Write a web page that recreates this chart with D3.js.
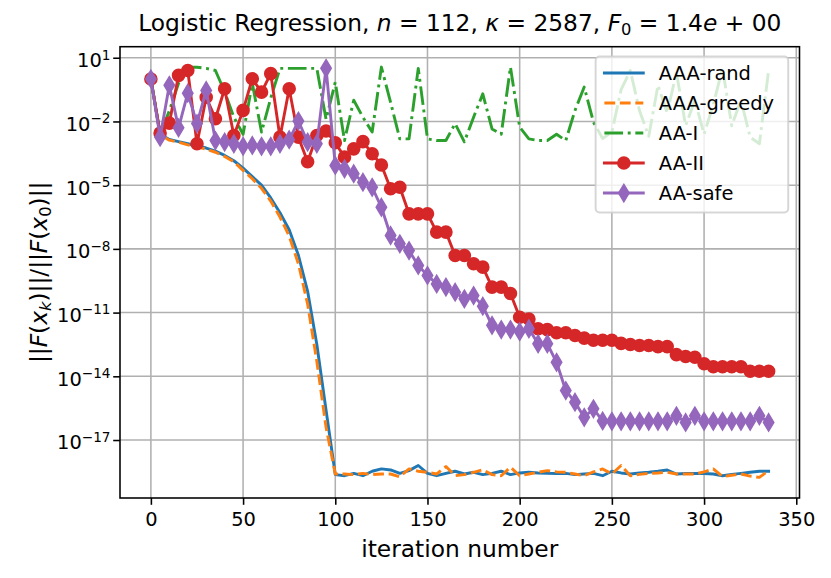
<!DOCTYPE html>
<html>
<head>
<meta charset="utf-8">
<script src="https://cdn.jsdelivr.net/npm/d3@7"></script>
<style>
  body { margin: 0; background: #fff; }
  text { font-family: "DejaVu Sans", sans-serif; fill: #000; }
</style>
</head>
<body>
<script>
// iteration grid (every 5th iteration is stored)
var iters = [0,5,10,15,20,25,30,35,40,45,50,55,60,65,70,75,80,85,90,95,
  100,105,110,115,120,125,130,135,140,145,150,155,160,165,170,175,180,185,190,195,
  200,205,210,215,220,225,230,235,240,245,250,255,260,265,270,275,280,285,290,295,
  300,305,310,315,320,325,330,335];

// log10 of ||F(x_k)|| / ||F(x_0)||
var aaaRand = [0,-2.6,-2.85,-2.95,-3.05,-3.15,-3.25,-3.4,-3.6,-3.85,
  -4.2,-4.6,-5.0,-5.6,-6.3,-7.1,-8.3,-10.0,-12.5,-15.6,
  -18.63,-18.68,-18.57,-18.68,-18.47,-18.36,-18.41,-18.57,-18.44,-18.2,
  -18.57,-18.68,-18.57,-18.47,-18.6,-18.52,-18.63,-18.57,-18.47,-18.63,
  -18.55,-18.52,-18.55,-18.57,-18.58,-18.57,-18.63,-18.6,-18.57,-18.68,
  -18.47,-18.55,-18.6,-18.55,-18.52,-18.47,-18.41,-18.6,-18.58,-18.57,
  -18.58,-18.6,-18.68,-18.62,-18.57,-18.52,-18.47,-18.47];

var aaaGreedy = [0,-2.62,-2.88,-2.98,-3.1,-3.2,-3.3,-3.45,-3.65,-3.9,
  -4.3,-4.7,-5.15,-5.75,-6.5,-7.4,-8.7,-10.6,-13.3,-16.4,
  -18.6,-18.6,-18.63,-18.57,-18.63,-18.6,-18.6,-18.73,-18.36,-18.47,
  -18.52,-18.6,-18.25,-18.68,-18.63,-18.52,-18.4,-18.63,-18.68,-18.28,
  -18.68,-18.6,-18.52,-18.44,-18.5,-18.52,-18.6,-18.68,-18.5,-18.36,
  -18.6,-18.2,-18.68,-18.62,-18.57,-18.55,-18.52,-18.6,-18.6,-18.6,
  -18.5,-18.36,-18.72,-18.66,-18.6,-18.7,-18.76,-18.44];

var aaI = [0,-2.6,-1.5,-0.2,0.55,0.55,0.5,0.4,-0.6,-1.8,
  -2.6,-0.2,-2.5,-0.9,0.5,0.5,0.5,0.5,0.5,-1.9,
  -0.15,-2.9,-1.0,-1.8,-2.5,0.56,-1.1,-2.82,-2.82,0.5,
  -2.82,-2.9,-2.9,-2.1,-2.96,-1.8,-0.7,-2.35,-2.6,0.56,
  -2.27,-2.82,-2.9,-2.9,-2.6,-2.9,-1.48,-0.38,-2.03,-2.8,
  -2.5,-0.5,0.4,-1.5,-2.7,-0.3,-1.6,0.3,-2.2,-1.0,
  -2.6,-1.2,0.5,-2.2,-1.0,-2.74,-3.05,0.4];

var aaII = [0,-2.55,-2.08,0.17,0.4,-3.05,-0.86,-1.87,-0.46,-2.66,
  -1.48,0.01,-0.62,0.25,-2.74,-0.46,-2.74,-3.9,-2.66,-2.45,
  -3.0,-3.68,-3.29,-2.95,-3.52,-4.05,-5.17,-5.1,-6.35,-6.35,
  -6.35,-7.21,-7.21,-8.31,-8.31,-8.7,-8.86,-9.8,-9.8,-10.1,
  -11.22,-11.3,-11.76,-11.8,-11.95,-11.95,-12.08,-12.2,-12.3,-12.3,
  -12.3,-12.45,-12.5,-12.55,-12.55,-12.6,-12.6,-12.98,-13.07,-13.1,
  -13.41,-13.55,-13.55,-13.55,-13.55,-13.76,-13.76,-13.76];

var aaSafe = [0,-2.74,-0.3,-2.3,-0.67,-2.1,-0.54,-2.9,-2.97,-3.05,
  -3.17,-3.13,-3.17,-3.17,-3.05,-2.86,-1.98,-2.97,-3.05,0.5,
  -4.07,-4.23,-4.46,-4.86,-5.1,-6.04,-7.37,-7.76,-8.08,-8.78,
  -9.25,-9.65,-9.8,-10.04,-10.35,-10.2,-10.7,-11.6,-11.8,-11.8,
  -11.9,-11.76,-12.47,-12.47,-13.34,-14.67,-15.22,-15.93,-15.53,-16.1,
  -16.12,-16.12,-16.12,-16.12,-16.12,-16.12,-16.12,-15.86,-16.17,-15.86,
  -16.12,-16.12,-16.12,-16.12,-16.12,-16.12,-15.86,-16.17];

var seriesNames = ["AAA-rand", "AAA-greedy", "AA-I", "AA-II", "AA-safe"];
var xTicks = [0, 50, 100, 150, 200, 250, 300, 350];
var yTickExps = [1, -2, -5, -8, -11, -14, -17];

var pt = 140 / 72;   // figure was rendered at ~140 dpi
var W = 831, H = 578;
var L = 120, R = 799.5, T = 46.7, B = 498;

var svg = d3.select("body").append("svg")
    .attr("width", W).attr("height", H);

var x = d3.scaleLinear().domain([-16.75, 351.75]).range([L, R]);
var y = d3.scaleLog().domain([Math.pow(10, -19.73), Math.pow(10, 1.52)]).range([B, T]);

// grid
var grid = svg.append("g");
grid.selectAll("line.gx").data(xTicks).enter().append("line")
    .attr("x1", function(d) { return x(d); }).attr("x2", function(d) { return x(d); })
    .attr("y1", T).attr("y2", B)
    .attr("stroke", "#b0b0b0").attr("stroke-width", 0.8 * pt);
grid.selectAll("line.gy").data(yTickExps).enter().append("line")
    .attr("y1", function(d) { return y(Math.pow(10, d)); }).attr("y2", function(d) { return y(Math.pow(10, d)); })
    .attr("x1", L).attr("x2", R)
    .attr("stroke", "#b0b0b0").attr("stroke-width", 0.8 * pt);

svg.append("clipPath").attr("id", "clip").append("rect")
    .attr("x", L).attr("y", T).attr("width", R - L).attr("height", B - T);

var styles = [
  {data: aaaRand,   color: "#1f77b4", dash: null},
  {data: aaaGreedy, color: "#ff7f0e", dash: [3.7 * 1.5 * pt, 1.6 * 1.5 * pt]},
  {data: aaI,       color: "#2ca02c", dash: [6.4 * 1.5 * pt, 1.6 * 1.5 * pt, 1 * 1.5 * pt, 1.6 * 1.5 * pt]},
  {data: aaII,      color: "#d62728", dash: null, marker: "o"},
  {data: aaSafe,    color: "#9467bd", dash: null, marker: "d"}
];

var line = d3.line()
    .x(function(d) { return x(d[0]); })
    .y(function(d) { return y(Math.pow(10, d[1])); });

var ms = 6 * pt;
var circlePath = d3.symbol().type(d3.symbolCircle).size(Math.PI * (ms / 2) * (ms / 2))();
var dh = 0.7071 * ms, dw = 0.6 * dh;
var diamondPath = "M0," + (-dh) + "L" + dw + ",0L0," + dh + "L" + (-dw) + ",0Z";

var plot = svg.append("g").attr("clip-path", "url(#clip)");
styles.forEach(function(s) {
  var pts = iters.map(function(it, i) { return [it, s.data[i]]; });
  var p = plot.append("path").datum(pts)
      .attr("d", line)
      .attr("fill", "none")
      .attr("stroke", s.color)
      .attr("stroke-width", 1.5 * pt)
      .attr("stroke-linejoin", "round")
      .attr("stroke-linecap", s.dash ? "butt" : "square");
  if (s.dash) p.attr("stroke-dasharray", s.dash.join(","));
  if (s.marker) {
    plot.append("g").selectAll("path").data(pts).enter().append("path")
        .attr("d", s.marker === "o" ? circlePath : diamondPath)
        .attr("transform", function(d) { return "translate(" + x(d[0]) + "," + y(Math.pow(10, d[1])) + ")"; })
        .attr("fill", s.color).attr("stroke", s.color).attr("stroke-width", 1 * pt);
  }
});

// spines
svg.append("rect").attr("x", L).attr("y", T).attr("width", R - L).attr("height", B - T)
    .attr("fill", "none").attr("stroke", "#000").attr("stroke-width", 0.8 * pt);

// x axis
var xAxis = d3.axisBottom(x).tickValues(xTicks).tickSize(3.5 * pt).tickPadding(3.5 * pt)
    .tickFormat(d3.format("d"));
var gx = svg.append("g").attr("transform", "translate(0," + B + ")").call(xAxis);
gx.select(".domain").remove();
gx.selectAll(".tick line").attr("stroke", "#000").attr("stroke-width", 0.8 * pt);
gx.selectAll(".tick text").attr("font-size", 10 * pt).attr("font-family", "DejaVu Sans")
    .attr("dy", "0.76em").attr("fill", "#000");

// y axis with 10^k labels
var yAxis = d3.axisLeft(y).tickValues(yTickExps.map(function(e) { return Math.pow(10, e); }))
    .tickSize(3.5 * pt).tickFormat("");
var gy = svg.append("g").attr("transform", "translate(" + L + ",0)").call(yAxis);
gy.select(".domain").remove();
gy.selectAll(".tick line").attr("stroke", "#000").attr("stroke-width", 0.8 * pt);
var yl = svg.append("g").selectAll("text").data(yTickExps).enter().append("text")
    .attr("x", 110.5)
    .attr("y", function(d) { return y(Math.pow(10, d)) + 9.4; })
    .attr("text-anchor", "end")
    .attr("font-size", 10 * pt);
yl.append("tspan").text("10");
yl.append("tspan").attr("dy", -7.6).attr("font-size", 7 * pt)
    .text(function(d) { return d < 0 ? "\u2212" + (-d) : String(d); });

// labels
svg.append("text").attr("x", (L + R) / 2).attr("y", 557).attr("text-anchor", "middle")
    .attr("font-size", 12 * pt).text("iteration number");

var ylab = svg.append("text").attr("transform", "translate(47," + ((T + B) / 2) + ") rotate(-90)")
    .attr("text-anchor", "middle").attr("font-size", 12 * pt);
ylab.append("tspan").text("||");
ylab.append("tspan").attr("font-style", "italic").text("F");
ylab.append("tspan").text("(");
ylab.append("tspan").attr("font-style", "italic").text("x");
ylab.append("tspan").attr("font-style", "italic").attr("font-size", 8.4 * pt).attr("dy", 4).text("k");
ylab.append("tspan").attr("dy", -4).text(")||/||");
ylab.append("tspan").attr("font-style", "italic").text("F");
ylab.append("tspan").text("(");
ylab.append("tspan").attr("font-style", "italic").text("x");
ylab.append("tspan").attr("font-size", 8.4 * pt).attr("dy", 4).text("0");
ylab.append("tspan").attr("dy", -4).text(")||");

var title = svg.append("text").attr("x", (L + R) / 2).attr("y", 31).attr("text-anchor", "middle")
    .attr("font-size", 12 * pt);
title.append("tspan").text("Logistic Regression, ");
title.append("tspan").attr("font-style", "italic").text("n");
title.append("tspan").text(" = 112, ");
title.append("tspan").attr("font-style", "italic").text("\u03ba");
title.append("tspan").text(" = 2587, ");
title.append("tspan").attr("font-style", "italic").text("F");
title.append("tspan").attr("font-size", 8.4 * pt).attr("dy", 4).text("0");
title.append("tspan").attr("dy", -4).text(" = 1.4");
title.append("tspan").attr("font-style", "italic").text("e");
title.append("tspan").text(" + 00");

// legend
var fs = 10 * pt;
var lgX = R - 0.5 * fs - 0.8 * pt, lgTop = T + 0.5 * fs;
var lgW = 192.6, lgH = 156;
var lg = svg.append("g");
lg.append("rect").attr("x", lgX - lgW).attr("y", lgTop).attr("width", lgW).attr("height", lgH)
    .attr("rx", 4).attr("ry", 4)
    .attr("fill", "#fff").attr("fill-opacity", 0.8)
    .attr("stroke", "#cccccc").attr("stroke-opacity", 0.8).attr("stroke-width", 1 * pt);
var hx0 = lgX - lgW + 0.4 * fs + 1, hx1 = hx0 + 2 * fs;
seriesNames.forEach(function(name, i) {
  var s = styles[i];
  var cy = lgTop + 16.6 + i * 30;
  var hl = lg.append("line").attr("x1", hx0).attr("x2", hx1).attr("y1", cy).attr("y2", cy)
      .attr("stroke", s.color).attr("stroke-width", 1.5 * pt)
      .attr("stroke-linecap", s.dash ? "butt" : "square");
  if (s.dash) hl.attr("stroke-dasharray", s.dash.join(","));
  if (s.marker) {
    lg.append("path").attr("d", s.marker === "o" ? circlePath : diamondPath)
        .attr("transform", "translate(" + ((hx0 + hx1) / 2) + "," + cy + ")")
        .attr("fill", s.color).attr("stroke", s.color).attr("stroke-width", 1 * pt);
  }
  lg.append("text").attr("x", hx1 + 0.8 * fs).attr("y", cy).attr("dy", "0.36em")
      .attr("font-size", fs).text(name);
});
</script>
</body>
</html>
